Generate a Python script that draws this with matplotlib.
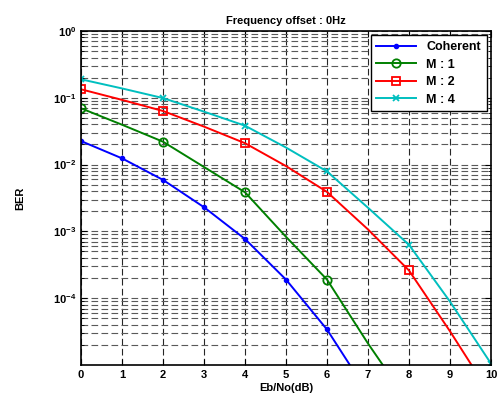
import numpy as np
import matplotlib.pyplot as plt
from matplotlib.ticker import LogLocator, NullFormatter

plt.rcParams['font.family'] = ['Liberation Sans', 'DejaVu Sans']
plt.rcParams['font.weight'] = 'bold'

ebno = np.arange(0, 11)

coherent = [0.0225, 0.0124, 0.0059, 0.0023, 7.7e-4, 1.9e-4, 3.4e-5, 3.8e-6]
m1 = [0.0696, 0.0395, 0.022, 0.0092, 0.00385, 8.3e-4, 1.9e-4, 2.1e-5, 2.7e-6]
m2 = [0.134, 0.093, 0.0634, 0.037, 0.0209, 0.0095, 0.0039, 1.07e-3, 2.6e-4, 3.2e-5, 3.5e-6]
m4 = [0.189, 0.138, 0.099, 0.062, 0.0382, 0.018, 0.0079, 2.26e-3, 6.3e-4, 8.9e-5, 1.05e-5]

fig = plt.figure(figsize=(5.01, 3.97), dpi=100)
ax = fig.add_axes([0.1617, 0.0806, 0.8183, 0.8414])

lw = 1.4
ax.semilogy(ebno[:len(coherent)], coherent, '.-', color='b', lw=lw, ms=6, label='Coherent')
ax.semilogy(ebno[:len(m1)], m1, 'o-', color=(0, 0.5, 0), lw=lw, ms=6, mfc='none',
            mew=1.3, markevery=2, label='M : 1')
ax.semilogy(ebno, m2, 's-', color='r', lw=lw, ms=6, mfc='none', mew=1.3,
            markevery=2, label='M : 2')
ax.semilogy(ebno, m4, 'x-', color=(0, 0.75, 0.75), lw=lw, ms=4, mew=1.3,
            markevery=2, label='M : 4')

ax.set_xlim(0, 10)
ax.set_ylim(1e-5, 1)
ax.set_xticks(range(0, 11))
ax.set_yticks([1e-4, 1e-3, 1e-2, 1e-1, 1e0])
ax.yaxis.set_minor_locator(LogLocator(base=10, subs=np.arange(2, 10), numticks=20))
ax.yaxis.set_minor_formatter(NullFormatter())

ax.grid(True, which='major', axis='x', color='0.15', linestyle=(0, (6, 3)), lw=0.8)
ax.grid(True, which='both', axis='y', color='0.35', linestyle=(0, (6, 3)), lw=0.8)

ax.tick_params(which='both', direction='in', top=True, right=True, labelsize=8)
ax.tick_params(which='major', length=4)
ax.tick_params(which='minor', length=2)
for s in ax.spines.values():
    s.set_linewidth(1.2)

ax.set_title('Frequency offset : 0Hz', fontsize=8, fontweight='bold', pad=5)
ax.set_xlabel('Eb/No(dB)', fontsize=8, fontweight='bold', labelpad=2)
ax.set_ylabel('BER', fontsize=8, fontweight='bold', labelpad=20)

leg = ax.legend(loc='upper right', fontsize=9, fancybox=False, framealpha=1,
                edgecolor='k', borderaxespad=0.35, handlelength=3.2,
                labelspacing=0.45, borderpad=0.45)
leg.get_frame().set_linewidth(1.0)

fig.savefig('out.png', dpi=100)
